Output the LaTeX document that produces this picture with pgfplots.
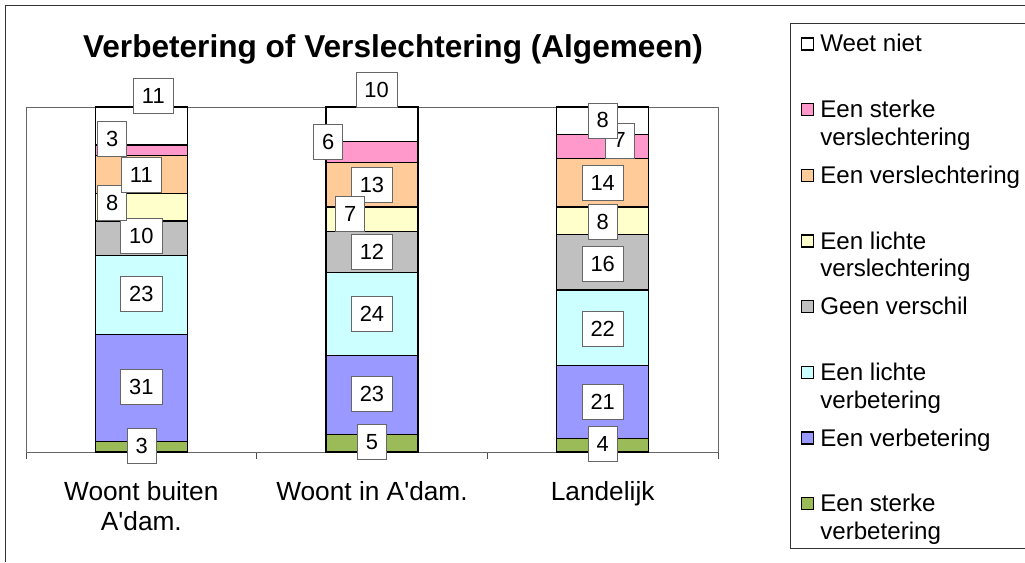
\documentclass[border=0pt]{standalone}
\usepackage{pgfplots}
\usepackage{pgfplotstable}
\pgfplotsset{compat=1.18}
\usepackage{fontspec}
\setmainfont{Liberation Sans}[Ligatures=TeXOff]
\definecolor{cWeet}{HTML}{FFFFFF}
\definecolor{cSterkVersl}{HTML}{FF99CC}
\definecolor{cVersl}{HTML}{FFCC99}
\definecolor{cLichtVersl}{HTML}{FFFFCC}
\definecolor{cGeen}{HTML}{C0C0C0}
\definecolor{cLichtVerb}{HTML}{CCFFFF}
\definecolor{cVerb}{HTML}{9999FF}
\definecolor{cSterkVerb}{HTML}{9BBB59}

% bottom to top: sterke verbetering, verbetering, lichte verbetering, geen verschil,
% lichte verslechtering, verslechtering, sterke verslechtering, weet niet
\pgfplotstableread{
x sv v lv g lvs vs svs wn
0 3 31 23 10 8 11 3 11
1 5 23 24 12 7 13 6 10
2 4 21 22 16 8 14 7 8
}\datatable

% data label positions
\pgfplotstableread{
x y v
0.002 1.7 3
0 18.8 31
0 45.8 23
0 62.5 10
-0.126 72.3 8
0 80.3 11
-0.126 90.7 3
0.052 103.2 11
1.0 2.9 5
1.0 16.7 23
1.0 40 24
1.0 58 12
1.0 77.5 13
0.905 69 7
0.81 89.9 6
1.02 104.9 10
2.0 2.3 4
2.0 14.6 21
2.0 35.7 22
2.0 54.6 16
2.0 66.8 8
2.0 77.9 14
2.074 90.3 7
2.0 96.1 8
}\labeltable

\begin{document}
\begin{tikzpicture}
\useasboundingbox (0,0) rectangle (768.75pt,421.5pt);
% outer frame (cropped)
\draw[black!80, line width=0.75pt] (3.75pt,0pt) -- (3.75pt,417pt) -- (768.75pt,417pt);
% title
\node[anchor=base, inner sep=0pt, font=\fontsize{23.7}{28}\selectfont\bfseries]
  at (294.75pt,378.5pt) {Verbetering of Verslechtering (Algemeen)};

\begin{axis}[
  at={(19.5pt,82.5pt)}, anchor=south west,
  scale only axis, width=519pt, height=258.75pt,
  ybar stacked, bar width=69pt,
  xmin=-0.5, xmax=2.5, ymin=0, ymax=100,
  xtick={0,1,2},
  xticklabels={{Woont buiten\\A'dam.},{Woont in A'dam.},{Landelijk}},
  xticklabel style={align=center, font=\fontsize{19.7}{22.5}\selectfont, inner sep=0pt, yshift=-21.9pt},
  major tick length=0pt,
  minor xtick={-0.5,0.5,1.5,2.5},
  minor tick length=5.25pt,
  tick align=outside,
  xtick pos=left,
  minor tick style={draw=gray!60!black, line width=0.75pt},
  ytick=\empty,
  axis line style={draw=gray!80!black, line width=0.75pt},
  clip=false,
  every axis plot/.append style={draw=black, line width=1pt},
]
\addplot[fill=cSterkVerb] table[x=x, y=sv] {\datatable};
\addplot[fill=cVerb] table[x=x, y=v] {\datatable};
\addplot[fill=cLichtVerb] table[x=x, y=lv] {\datatable};
\addplot[fill=cGeen] table[x=x, y=g] {\datatable};
\addplot[fill=cLichtVersl] table[x=x, y=lvs] {\datatable};
\addplot[fill=cVersl] table[x=x, y=vs] {\datatable};
\addplot[fill=cSterkVersl] table[x=x, y=svs] {\datatable};
\addplot[fill=cWeet] table[x=x, y=wn] {\datatable};
\end{axis}

\begin{axis}[
  at={(19.5pt,82.5pt)}, anchor=south west,
  scale only axis, width=519pt, height=258.75pt,
  xmin=-0.5, xmax=2.5, ymin=0, ymax=100,
  hide axis, clip=false,
]
\addplot[only marks, mark=*, mark size=0pt, mark options={draw=none, fill=none},
  point meta=explicit symbolic,
  nodes near coords,
  every node near coord/.append style={anchor=center, draw=gray!80!black, fill=white,
     line width=0.6pt, inner xsep=6.4pt, inner ysep=0pt, minimum height=26.25pt,
     font=\fontsize{16.4}{19}\selectfont, text=black},
] table[x=x, y=y, meta=v] {\labeltable};
\end{axis}

% legend
\draw[black!80, line width=0.75pt] (768.75pt,403.5pt) -- (592.5pt,403.5pt) -- (592.5pt,10.5pt) -- (768.75pt,10.5pt);
\foreach \col/\b/\la/\lb in {
  cWeet/382.5/{Weet niet}/{},
  cSterkVersl/333.2/{Een sterke}/{verslechtering},
  cVersl/283.95/{Een verslechtering}/{},
  cLichtVersl/234.7/{Een lichte}/{verslechtering},
  cGeen/185.4/{Geen verschil}/{},
  cLichtVerb/136.1/{Een lichte}/{verbetering},
  cVerb/86.85/{Een verbetering}/{},
  cSterkVerb/37.6/{Een sterke}/{verbetering}} {
  \filldraw[fill=\col, draw=black, line width=1.1pt] (601.2pt,\b pt+1.6pt) rectangle (610.2pt,\b pt+10.6pt);
  \node[anchor=base west, inner sep=0pt, font=\fontsize{18.1}{20.6}\selectfont] at (615pt,\b pt) {\la};
  \node[anchor=base west, inner sep=0pt, font=\fontsize{18.1}{20.6}\selectfont] at (615pt,\b pt-20.6pt) {\lb};
}
\end{tikzpicture}
\end{document}
